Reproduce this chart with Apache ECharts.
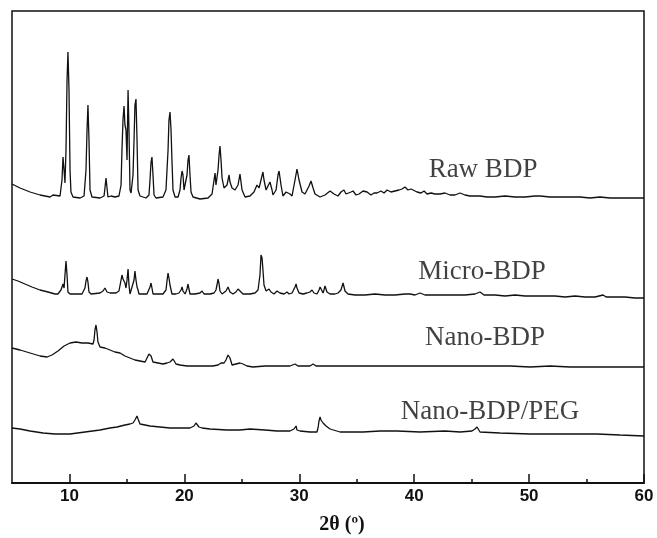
<!DOCTYPE html>
<html>
<head>
<meta charset="utf-8">
<script src="https://cdn.jsdelivr.net/npm/echarts@6/dist/echarts.min.js"></script>
<style>html,body{margin:0;padding:0;background:#fff}#c{width:657px;height:538px}</style>
</head>
<body>
<div id="c"></div>
<script>
// 2θ (degrees) and stacked intensity (a.u., offset included)
const rawBDP = [[5.00,310],[5.70,306],[6.57,302],[7.44,299],[8.31,297],[8.57,299],[8.74,297],[9.18,298],[9.35,314],[9.44,337],[9.53,324],[9.61,311],[9.70,344],[9.79,414],[9.87,442],[9.96,404],[10.05,324],[10.13,302],[10.31,297],[10.92,296],[11.27,298],[11.44,324],[11.53,364],[11.61,389],[11.70,354],[11.79,304],[11.96,297],[12.66,296],[13.01,298],[13.09,306],[13.18,316],[13.27,306],[13.35,297],[13.62,298],[13.79,300],[13.96,297],[14.31,298],[14.49,309],[14.57,344],[14.66,374],[14.75,388],[14.83,369],[14.92,364],[15.01,334],[15.10,404],[15.18,364],[15.27,304],[15.36,301],[15.53,319],[15.62,354],[15.70,389],[15.79,395],[15.88,354],[15.97,304],[16.14,298],[16.66,296],[16.92,299],[17.01,314],[17.10,332],[17.18,337],[17.27,319],[17.36,299],[17.53,296],[18.14,297],[18.40,304],[18.58,344],[18.66,374],[18.75,382],[18.84,364],[18.92,334],[19.01,304],[19.19,297],[19.45,297],[19.62,304],[19.71,316],[19.80,323],[19.88,319],[19.97,304],[20.06,302],[20.23,319],[20.32,334],[20.40,339],[20.49,319],[20.58,302],[20.75,297],[21.36,295],[22.06,296],[22.41,300],[22.67,321],[22.75,309],[22.93,324],[23.02,339],[23.10,348],[23.19,334],[23.28,316],[23.45,306],[23.54,304],[23.71,309],[23.89,319],[23.97,312],[24.15,306],[24.23,304],[24.41,304],[24.67,309],[24.84,320],[25.02,304],[25.28,297],[25.71,298],[26.06,302],[26.32,309],[26.50,306],[26.67,314],[26.84,322],[26.93,314],[27.11,304],[27.28,308],[27.45,312],[27.63,304],[27.71,299],[27.98,304],[28.15,319],[28.24,323],[28.41,309],[28.58,298],[28.85,302],[29.02,303],[29.19,300],[29.37,298],[29.63,314],[29.80,325],[29.98,314],[30.24,302],[30.50,300],[30.67,301],[30.85,308],[31.02,313],[31.20,306],[31.37,300],[31.81,297],[32.24,299],[32.68,303],[33.02,300],[33.37,298],[33.63,302],[33.89,304],[34.07,300],[34.24,299],[34.50,302],[34.68,303],[34.94,299],[35.20,300],[35.55,303],[35.90,302],[36.24,299],[36.51,301],[36.77,301],[37.11,303],[37.38,301],[37.64,304],[37.98,302],[38.33,303],[38.68,304],[38.94,305],[39.20,307],[39.46,304],[39.73,305],[39.90,304],[40.25,302],[40.60,301],[40.86,303],[41.12,300],[41.47,301],[41.81,300],[42.25,300],[42.68,301],[43.12,299],[43.55,299],[43.99,301],[44.42,299],[44.86,298],[45.73,298],[46.34,297],[47.04,297],[47.91,298],[48.78,297],[49.65,297],[50.52,298],[50.95,298],[51.82,297],[52.69,297],[53.56,297],[54.43,297],[55.30,296],[56.17,297],[57.04,296],[57.91,296],[58.78,296],[60.00,296]];

const microBDP = [[5.00,215],[5.52,213],[6.13,210],[6.74,207],[7.44,204],[8.13,202],[8.74,200],[9.00,200],[9.26,204],[9.44,210],[9.53,206],[9.61,219],[9.70,233],[9.79,219],[9.87,202],[10.05,200],[10.57,200],[11.09,200],[11.35,206],[11.44,213],[11.53,217],[11.61,212],[11.70,202],[11.88,200],[12.66,201],[12.92,203],[13.09,206],[13.27,202],[13.53,201],[14.05,201],[14.31,203],[14.49,214],[14.57,219],[14.66,215],[14.75,217],[14.83,211],[14.92,206],[15.01,214],[15.10,225],[15.18,209],[15.27,200],[15.44,201],[15.62,214],[15.70,223],[15.79,214],[15.88,207],[15.97,204],[16.05,200],[16.40,200],[16.75,200],[16.92,202],[17.01,207],[17.10,211],[17.18,206],[17.27,200],[17.71,200],[18.14,200],[18.40,204],[18.49,213],[18.58,221],[18.66,216],[18.75,209],[18.92,200],[19.27,200],[19.53,201],[19.71,204],[19.80,207],[19.88,203],[20.06,200],[20.23,205],[20.32,210],[20.40,205],[20.49,200],[20.93,200],[21.36,201],[21.54,203],[21.71,200],[22.23,200],[22.58,201],[22.75,204],[22.84,209],[22.93,215],[23.02,210],[23.10,203],[23.28,200],[23.62,203],[23.80,207],[23.97,202],[24.23,200],[24.49,202],[24.67,205],[24.76,206],[24.84,203],[25.10,200],[25.71,200],[26.15,201],[26.41,204],[26.58,219],[26.67,239],[26.76,236],[26.84,224],[26.93,209],[27.11,203],[27.28,204],[27.37,205],[27.54,202],[27.80,200],[28.06,203],[28.15,204],[28.32,201],[28.67,200],[28.93,202],[29.11,200],[29.37,201],[29.63,207],[29.72,210],[29.80,206],[29.98,201],[30.33,200],[30.67,201],[30.93,202],[31.11,204],[31.28,201],[31.54,200],[31.72,204],[31.81,207],[31.98,205],[32.07,201],[32.15,204],[32.24,208],[32.41,202],[32.68,200],[33.11,200],[33.37,201],[33.63,204],[33.81,211],[33.98,203],[34.24,200],[34.85,199],[35.72,199],[36.59,200],[37.46,199],[38.33,199],[39.20,200],[39.64,200],[40.07,199],[40.51,201],[40.94,199],[41.81,199],[42.68,199],[43.55,199],[44.42,199],[45.29,200],[45.73,202],[46.08,199],[47.04,199],[47.91,198],[48.78,199],[49.65,198],[50.52,198],[51.39,198],[52.26,198],[53.13,197],[54.00,198],[54.87,197],[55.74,197],[56.44,199],[56.70,197],[57.48,197],[58.35,197],[59.22,196],[60.00,196]];

const nanoBDP = [[5.00,146],[5.70,144],[6.57,141],[7.44,138],[8.05,137],[8.48,139],[9.00,143],[9.53,148],[10.05,151],[10.57,152],[11.09,151],[11.61,151],[12.05,150],[12.14,154],[12.22,164],[12.31,169],[12.40,162],[12.48,152],[12.66,147],[13.09,146],[13.53,144],[13.96,142],[14.40,141],[14.83,138],[15.27,136],[15.70,134],[16.14,133],[16.58,132],[16.75,134],[16.92,140],[17.01,142],[17.10,138],[17.27,132],[17.71,131],[18.14,130],[18.49,131],[18.75,132],[18.92,134],[19.01,135],[19.10,133],[19.27,130],[19.62,129],[20.23,128],[20.93,128],[21.80,128],[22.49,128],[22.93,129],[23.19,131],[23.45,131],[23.62,134],[23.80,139],[23.89,140],[23.97,136],[24.15,129],[24.49,130],[24.84,131],[25.10,130],[25.45,128],[25.97,127],[27.02,128],[28.32,128],[29.19,128],[29.63,130],[29.89,128],[30.93,128],[31.20,130],[31.46,128],[32.68,128],[34.42,128],[36.16,128],[37.90,128],[39.64,128],[41.38,128],[43.12,128],[44.86,128],[46.60,128],[48.34,128],[50.08,127],[51.82,128],[53.56,127],[55.30,127],[57.04,127],[58.78,127],[60.00,127]];

const nanoBDPPEG = [[5.00,66],[5.70,65],[6.57,63],[7.70,61],[8.74,60],[10.05,60],[11.35,62],[12.66,64],[13.53,66],[14.14,67],[14.83,69],[15.27,70],[15.53,71],[15.70,74],[15.88,78],[15.97,75],[16.14,70],[16.58,69],[17.01,68],[17.88,67],[18.75,66],[19.62,66],[20.49,66],[20.84,68],[21.01,71],[21.10,71],[21.27,67],[21.54,66],[22.23,65],[23.71,64],[24.84,64],[25.71,65],[27.02,64],[28.06,63],[29.19,63],[29.54,65],[29.72,68],[29.80,64],[30.06,63],[30.93,62],[31.54,62],[31.63,66],[31.72,73],[31.81,77],[31.89,74],[32.07,71],[32.33,68],[32.68,65],[33.55,62],[34.42,62],[35.55,62],[37.03,63],[38.51,63],[40.51,62],[42.68,63],[44.00,62],[45.03,63],[45.29,65],[45.47,67],[45.56,65],[45.73,62],[47.47,61],[50.08,60],[52.69,60],[55.91,60],[57.91,59],[60.00,58]];

const sampleNames = ['Raw BDP', 'Micro-BDP', 'Nano-BDP', 'Nano-BDP/PEG'];
const labelAt = [[45.99, 324], [45.90, 222], [46.17, 156], [46.60, 82]];
const majorTicks = [10, 20, 30, 40, 50, 60];
const minorTicks = [15, 25, 35, 45, 55];
const xTitle = '2θ (º)';

const chart = echarts.init(document.getElementById('c'), null, {renderer: 'canvas'});
const lineStyle = {color: '#111', width: 1.3};
const mk = (name, data) => ({
  type: 'line', name, data, showSymbol: false, symbol: 'none',
  lineStyle, xAxisIndex: 0, yAxisIndex: 0, animation: false, z: 3
});
chart.setOption({
  backgroundColor: '#fff',
  animation: false,
  grid: {left: 12, right: 13, top: 11, bottom: 55, show: true, borderColor: '#111', borderWidth: 1.5, containLabel: false},
  xAxis: [{
    type: 'value', min: 5, max: 60,
    axisLine: {show: true, lineStyle: {color: '#111', width: 2}},
    axisTick: {show: true, inside: true, length: 9, lineStyle: {color: '#111', width: 1.5}, customValues: majorTicks},
    axisLabel: {show: true, customValues: majorTicks, margin: 5, color: '#111', fontFamily: 'Liberation Sans', fontWeight: 'bold', fontSize: 17},
    splitLine: {show: false}
  }, {
    type: 'value', min: 5, max: 60, position: 'bottom',
    axisLine: {show: false},
    axisTick: {show: true, inside: true, length: 4, lineStyle: {color: '#111', width: 1.5}, customValues: minorTicks},
    axisLabel: {show: false},
    splitLine: {show: false}
  }],
  yAxis: {type: 'value', min: 11, max: 483, show: false, splitLine: {show: false}},
  series: [
    mk(sampleNames[0], rawBDP),
    mk(sampleNames[1], microBDP),
    mk(sampleNames[2], nanoBDP),
    mk(sampleNames[3], nanoBDPPEG),
    {
      type: 'scatter', symbolSize: 0, silent: true, z: 5,
      data: labelAt.map((p, i) => ({value: p, name: sampleNames[i]})),
      label: {show: true, position: 'inside', formatter: '{b}', color: '#111',
        fontFamily: 'Liberation Serif', fontSize: 27, align: 'center', verticalAlign: 'middle'}
    }
  ],
  graphic: [{
    type: 'text', x: 342, y: 525,
    style: {text: xTitle, fill: '#111', font: 'bold 20px "Liberation Serif"', align: 'center', verticalAlign: 'middle'}
  }]
});
</script>
</body>
</html>
